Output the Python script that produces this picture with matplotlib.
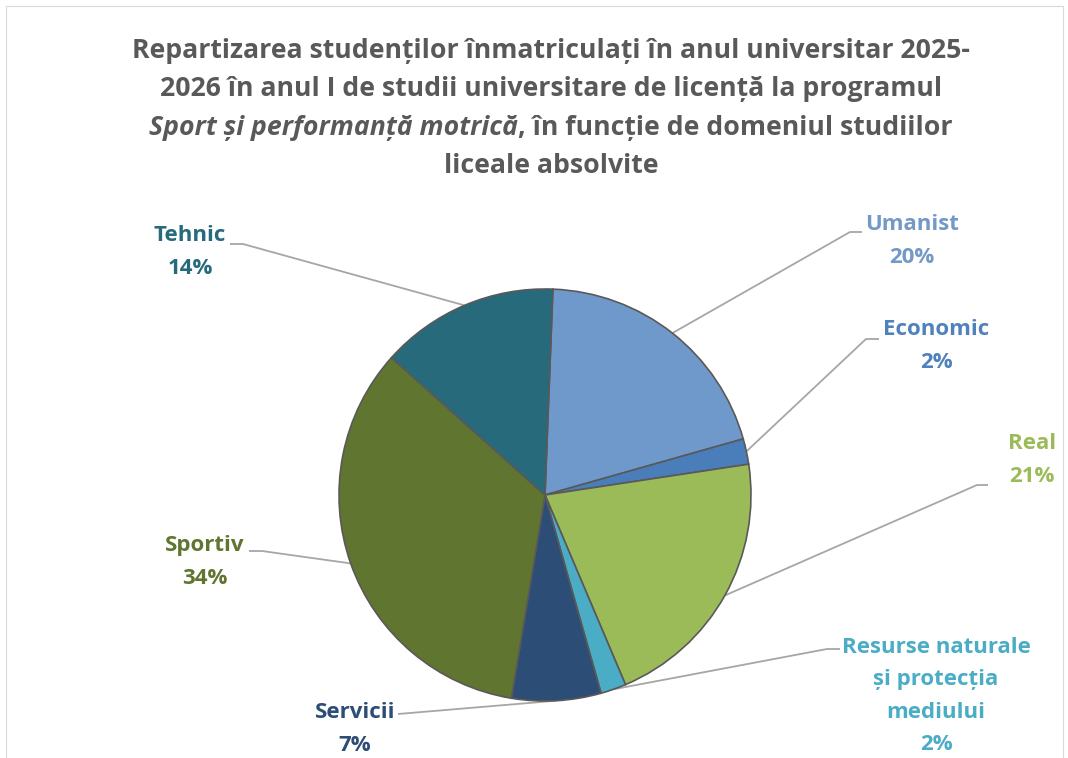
import numpy as np
import matplotlib
matplotlib.use("Agg")
import matplotlib.pyplot as plt
from matplotlib.patches import Rectangle

# ---- data ----
categories = ["Umanist", "Economic", "Real", "Resurse naturale\nși protecția\nmediului",
              "Servicii", "Sportiv", "Tehnic"]
values = [20, 2, 21, 2, 7, 34, 14]
colors = ["#7099CB", "#4A7EBB", "#9BBB59", "#4BACC6", "#2C4D75", "#5F7530", "#276A7C"]
label_colors = ["#7399C6", "#4F81BD", "#9BBB59", "#4BACC6", "#2C4D75", "#5F7530", "#276A7C"]

# layout (pixel coords, y from top)
W, H = 1068, 758
cx, cy, R = 545, 495, 206
start_angle = 87.8
label_pos = [(912, 241), (936, 346), (1032, 460), (936, 696), (355, 729), (205, 562), (190, 252)]
elbow = [(850, 232), (866, 339), (977, 485), (827, 649), (398, 714), (262, 551), (243, 244)]
line_end = [(862, 232), (879, 339), (988, 485), (840, 649), (398, 714), (249, 551), (230, 244)]

FONT = "Open Sans"
plt.rcParams["font.family"] = [FONT, "DejaVu Sans"]

fig = plt.figure(figsize=(W / 100, H / 100), dpi=100)
ax = fig.add_axes([0, 0, 1, 1])

def Y(y):
    return H - y

wedges, _ = ax.pie(values, colors=colors, startangle=start_angle, counterclock=False,
                   center=(cx, Y(cy)), radius=R, frame=True,
                   wedgeprops=dict(edgecolor="#595959", linewidth=1.2))
ax.set_xlim(0, W)
ax.set_ylim(0, H)
ax.set_aspect("equal")
ax.axis("off")

# frame
ax.add_patch(Rectangle((6, Y(780)), W - 11, 780 - 6, fill=False, edgecolor="#D9D9D9", lw=0.8))

# leader lines + labels
total = sum(values)
ang = start_angle
lfs = 16
for i, (cat, v) in enumerate(zip(categories, values)):
    span = 360 * v / total
    mid = np.deg2rad(ang - span / 2)
    ang -= span
    px, py = cx + R * np.cos(mid), cy - R * np.sin(mid)
    ex, ey = elbow[i]
    lx, ly = line_end[i]
    ax.plot([px, ex, lx], [Y(py), Y(ey), Y(ly)], color="#A6A6A6", lw=1.3, zorder=0.5,
            solid_capstyle="butt")
    lines = cat.split("\n") + [f"{v}%"]
    n = len(lines)
    tx, ty = label_pos[i]
    sp = 32.5
    for k, t in enumerate(lines):
        yy = ty + (k - (n - 1) / 2) * sp
        ax.text(tx, Y(yy), t, ha="center", va="center", fontsize=lfs,
                fontweight="bold", color=label_colors[i])

# title
tcol = "#595959"
tfs = 19.2
title_lines = [
    "Repartizarea studenților înmatriculați în anul universitar 2025-",
    "2026 în anul I de studii universitare de licență la programul",
    None,
    "liceale absolvite",
]
title_y = [51, 89, 128, 166]
tcx = 551
for t, yy in zip(title_lines, title_y):
    if t is not None:
        ax.text(tcx, Y(yy), t, ha="center", va="center", fontsize=tfs, fontweight="bold", color=tcol)

# mixed italic line
fig.canvas.draw()
r = fig.canvas.get_renderer()
p1 = ax.text(0, Y(title_y[2]), "Sport și performanță motrică", ha="left", va="center",
             fontsize=tfs, fontstyle="italic", fontweight="bold", color=tcol)
p2 = ax.text(0, Y(title_y[2]), ", în funcție de domeniul studiilor", ha="left", va="center",
             fontsize=tfs, fontweight="bold", color=tcol)
w1 = p1.get_window_extent(r).width
w2 = p2.get_window_extent(r).width
x0 = tcx - (w1 + w2) / 2
p1.set_x(x0)
p2.set_x(x0 + w1)

fig.savefig("out.png", dpi=100)
